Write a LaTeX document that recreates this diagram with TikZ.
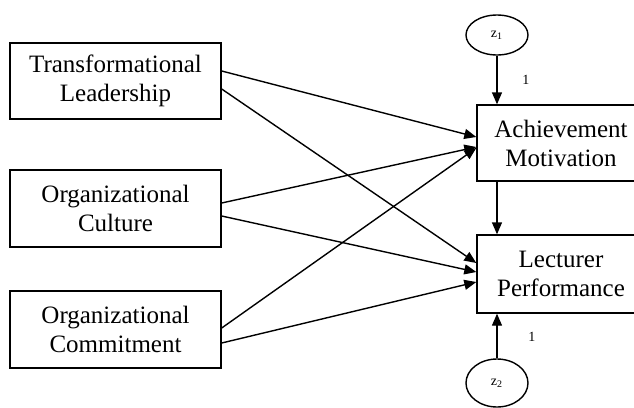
\documentclass[tikz,border=0pt]{standalone}
\usepackage{fontspec}
\setmainfont{Liberation Serif}
\usetikzlibrary{arrows.meta,shapes.geometric}
\begin{document}
\begin{tikzpicture}[x=0.5pt,y=-0.5pt,
  box/.style={draw, line width=0.7pt, inner sep=0pt, align=center,
    font=\fontsize{12.5}{14.5}\selectfont},
  latent/.style={draw, ellipse, line width=0.7pt, inner sep=0pt,
    minimum width=31pt, minimum height=20pt, font=\fontsize{7}{8}\selectfont},
  conn/.style={line width=0.7pt, -{Triangle[length=6pt,width=5pt]}},
  lbl/.style={font=\fontsize{7}{8}\selectfont, inner sep=0pt}]
\useasboundingbox (0,0) rectangle (634,408);
\clip (0,0) rectangle (634,408);
\node[box, minimum width=105.5pt, minimum height=38pt] (TL) at (115.5,81) {Transformational\\Leadership};
\node[box, minimum width=105.5pt, minimum height=38.5pt] (OC) at (115.5,208.5) {Organizational\\Culture};
\node[box, minimum width=105.5pt, minimum height=38.5pt] (OM) at (115.5,329.5) {Organizational\\Commitment};
\node[box, minimum width=84pt, minimum height=38pt] (AM) at (561,143) {Achievement\\Motivation};
\node[box, minimum width=84pt, minimum height=39pt] (LP) at (561,274) {Lecturer\\Performance};
\node[latent] (Z1) at (497,35) {z\textsubscript{1}};
\node[latent, minimum height=24pt] (Z2) at (497,383) {z\textsubscript{2}};
\node[lbl] (L1) at (526,80) {1};
\node[lbl] (L2) at (532,337) {1};
\draw[conn] ([yshift=5pt]TL.east) -- ([yshift=3pt]AM.west);
\draw[conn] ([yshift=-4pt]TL.east) -- ([yshift=5.5pt]LP.west);
\draw[conn] ([yshift=2.75pt]OC.east) -- ([yshift=-2pt]AM.west);
\draw[conn] ([yshift=-3.75pt]OC.east) -- ([yshift=1pt]LP.west);
\draw[conn] ([yshift=0.75pt]OM.east) -- ([yshift=-2.5pt]AM.west);
\draw[conn] ([yshift=-6.75pt]OM.east) -- ([yshift=-4pt]LP.west);
\draw[conn] (Z1.south) -- (Z1.south |- AM.north);
\draw[conn] (Z1.south |- AM.south) -- (Z1.south |- LP.north);
\draw[conn] (Z2.north) -- (Z2.north |- LP.south);
\end{tikzpicture}
\end{document}
